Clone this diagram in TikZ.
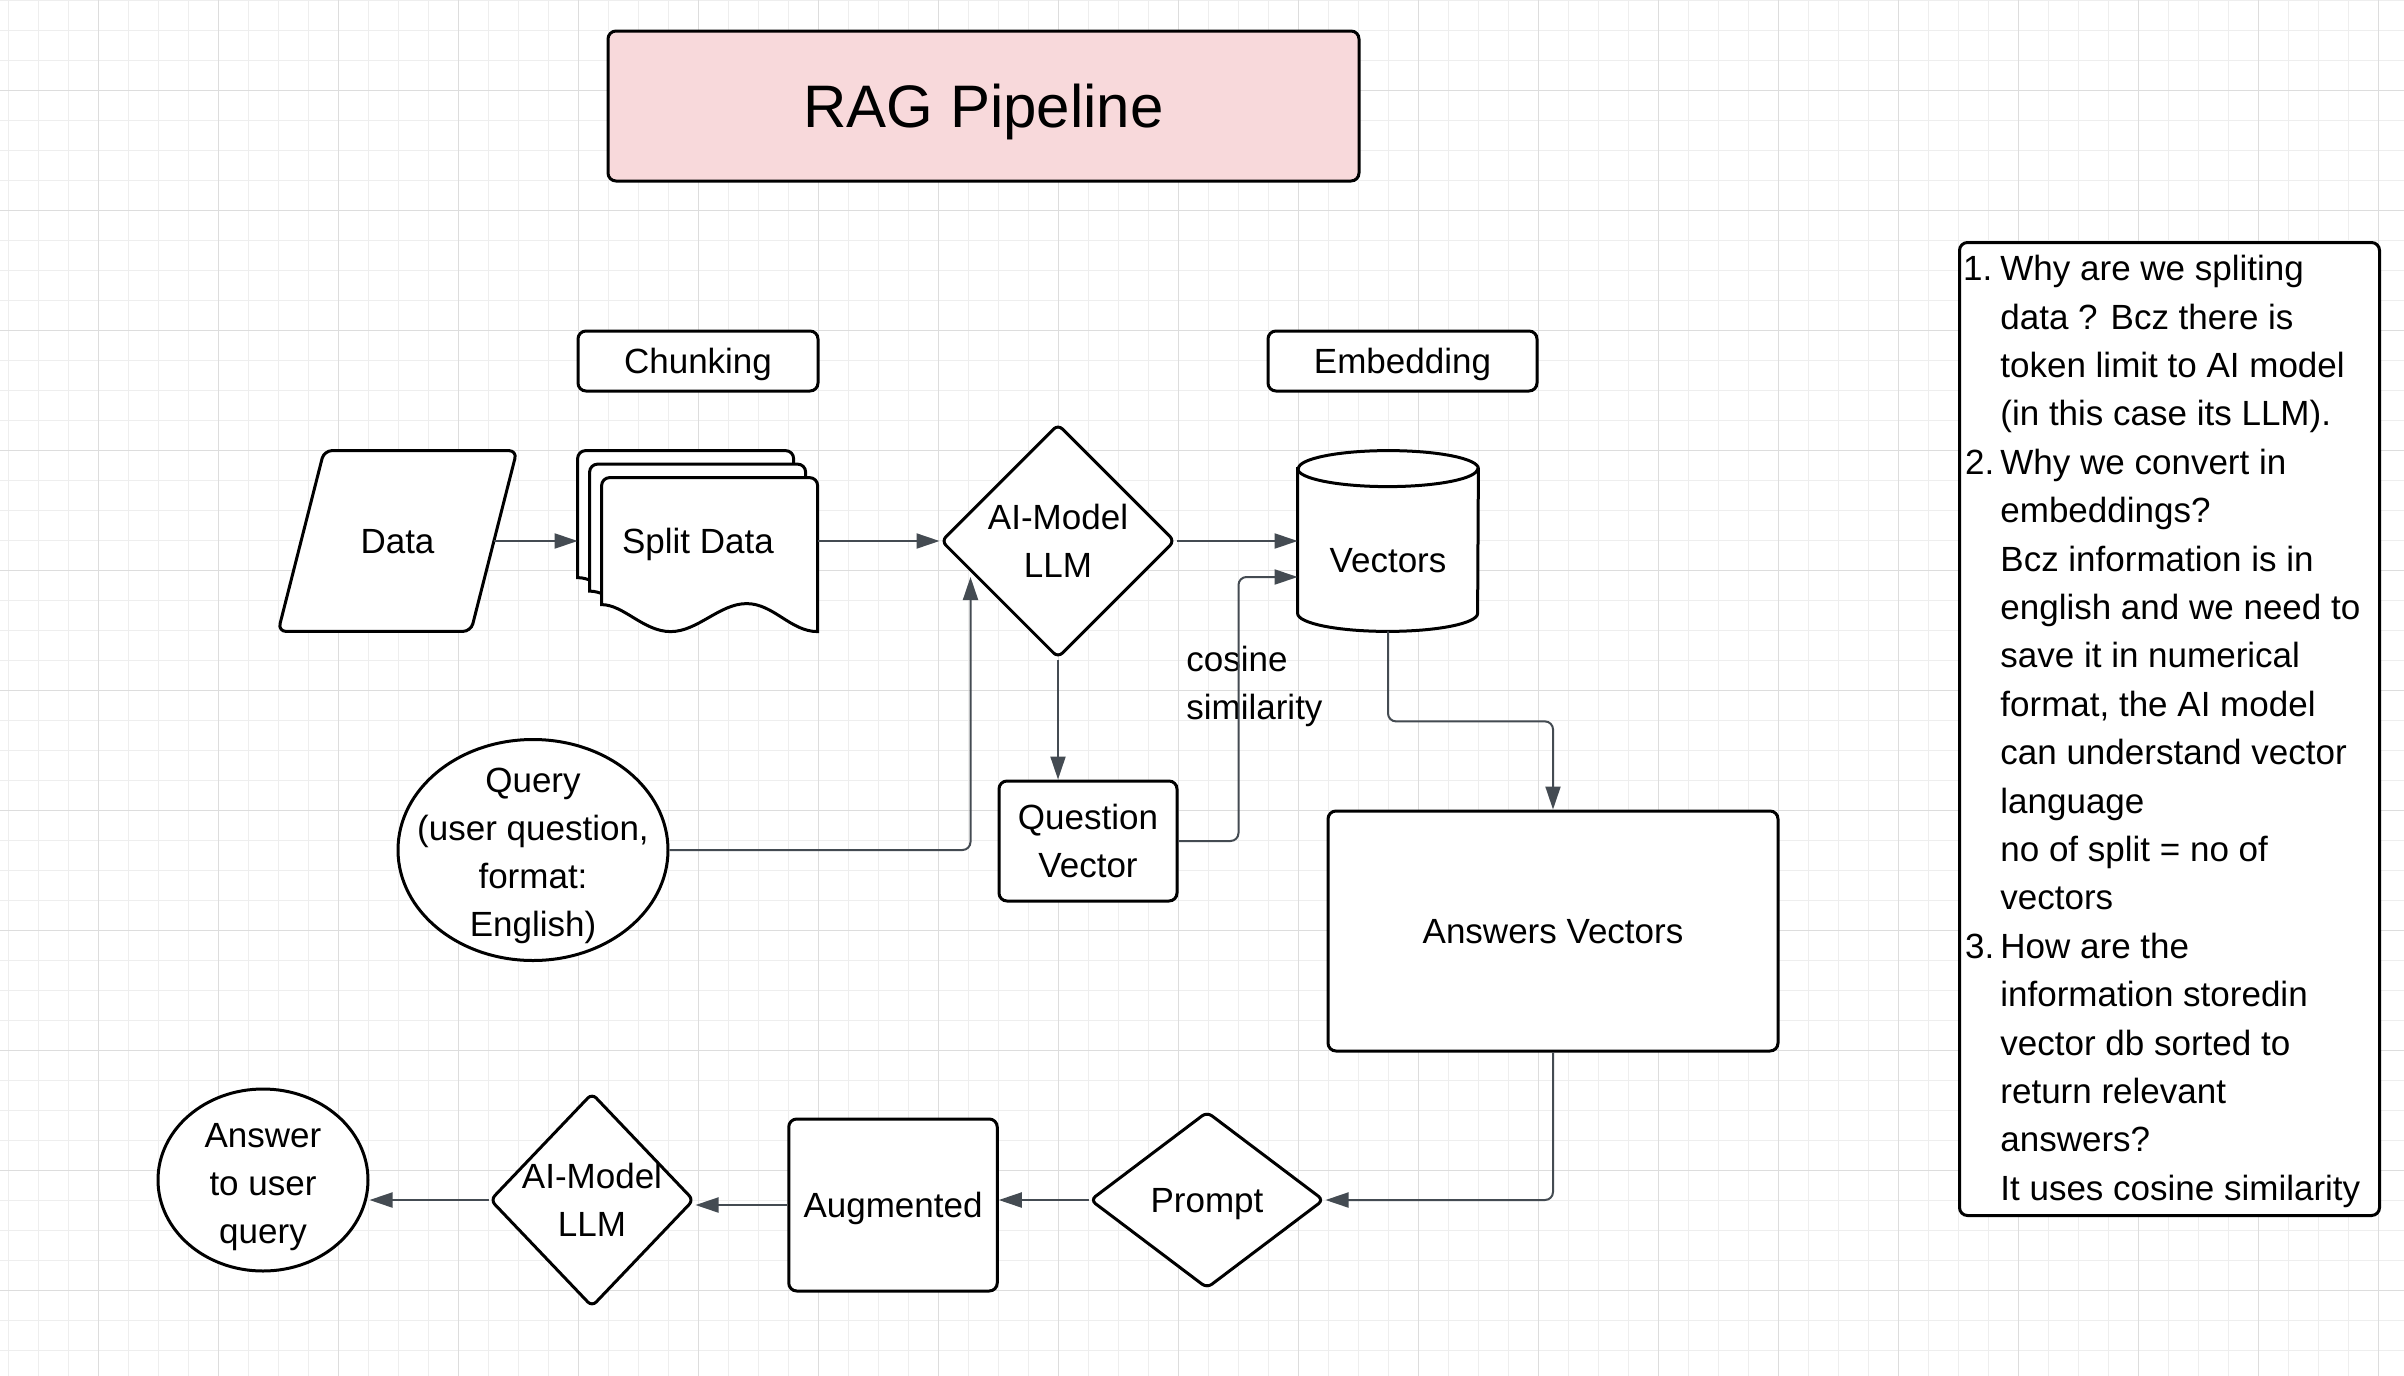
\documentclass[tikz,border=0pt]{standalone}
\usepackage{fontspec}
\setmainfont{Liberation Sans}
\usetikzlibrary{arrows.meta, shapes.geometric}
\pgfdeclarelayer{grid}
\pgfdeclarelayer{back}
\pgfsetlayers{grid,back,main}

\definecolor{gridminor}{HTML}{EEEEEE}
\definecolor{gridmajor}{HTML}{DDDDDD}
\definecolor{titlepink}{HTML}{F8D9DB}
\definecolor{linkgray}{HTML}{444B52}

\tikzset{every picture/.style={x=0.5pt, y=-0.5pt}}
\tikzset{
  shapeline/.style={draw=black, line width=1.5pt, fill=white},
  labelbox/.style={shapeline, rounded corners=4pt, inner sep=0pt, align=center, text depth=0pt},
  ghost/.style={inner sep=0pt, align=center, text depth=0pt},
  decision/.style={shapeline, diamond, inner sep=0pt, rounded corners=3pt, text depth=0pt},
  bubble/.style={shapeline, ellipse, inner sep=0pt},
  link/.style={draw=linkgray, line width=1pt, rounded corners=4pt, -{Triangle[length=11.5pt, width=7.5pt]}},
}

\begin{document}
\begin{tikzpicture}[font=\fontsize{17.5}{24}\selectfont]
        \useasboundingbox (0,0) rectangle (2404,1376);

        % Grid paper
        \begin{pgfonlayer}{grid}
        \fill[white] (0,0) rectangle (2404,1376);
        \foreach \i in {0,...,80} \draw[gridminor, line width=0.6pt] ({8.4+30*\i},0) -- ({8.4+30*\i},1376);
        \foreach \j in {0,...,46} \draw[gridminor, line width=0.6pt] (0,{0.5+30*\j}) -- (2404,{0.5+30*\j});
        \foreach \i in {0,...,19} \draw[gridmajor, line width=0.6pt] ({98.4+120*\i},0) -- ({98.4+120*\i},1376);
        \foreach \j in {0,...,10} \draw[gridmajor, line width=0.6pt] (0,{90.5+120*\j}) -- (2404,{90.5+120*\j});
        \end{pgfonlayer}

        % Title and stage labels
        \node[labelbox, fill=titlepink, minimum width=375.5pt, minimum height=75pt, font=\fontsize{30}{36}\selectfont] (title) at (983.5,106) {RAG Pipeline};
        \node[labelbox, minimum width=120pt, minimum height=30pt] (chunk) at (698,361) {Chunking};
        \node[labelbox, minimum width=134.5pt, minimum height=30pt] (embed) at (1402.5,361) {Embedding};

        % Upper row
        \node[ghost, minimum width=96pt, minimum height=90pt] (data) at (397.5,541) {Data};
        \node[ghost, minimum width=120pt, minimum height=90pt] (split) at (698,541) {Split Data};
        \node[decision, minimum width=117pt, minimum height=117pt] (ai) at (1058,541) {};
        \node[ghost] (aitext) at (ai) {AI-Model\\LLM};
        \node[ghost, minimum width=90pt, minimum height=90pt] (vec) at (1388,541) {};
        \node[ghost] (vectext) at (1388,560) {Vectors};

        % Middle row
        \node[bubble, minimum width=135pt, minimum height=110.5pt] (query) at (533,850) {};
        \node[ghost] (querytext) at (533,852) {Query\\(user question,\\format:\\English)};
        \node[labelbox, minimum width=89pt, minimum height=60pt] (qv) at (1088,841) {Question\\Vector};
        \node[ghost, anchor=west, align=left] (cosine) at (1186,683) {cosine\\similarity};
        \node[labelbox, minimum width=225pt, minimum height=120pt] (ans) at (1553,931) {Answers Vectors};

        % Lower row
        \node[decision, minimum width=117pt, minimum height=88.5pt] (prompt) at (1207,1200) {Prompt};
        \node[labelbox, minimum width=104.25pt, minimum height=86pt] (aug) at (893,1205) {Augmented};
        \node[decision, minimum width=102pt, minimum height=107pt] (llm) at (592,1200) {};
        \node[ghost] (llmtext) at (llm) {AI-Model\\LLM};
        \node[bubble, minimum width=105pt, minimum height=91pt] (answer) at (263,1180) {};
        \node[ghost] (answertext) at (263,1183) {Answer\\to user\\query};

        % Notes
        \node[shapeline, rounded corners=4pt, minimum width=210pt, minimum height=486.5pt, anchor=north west] (notes) at (1958,241) {};
        \node[ghost, anchor=north west, align=left, font=\fontsize{17.5}{24.2}\selectfont] (notetext) at (2000,255) {%
          \llap{1.\hspace{4pt}}Why are we spliting\\
          data ? Bcz there is\\
          token limit to AI model\\
          (in this case its LLM).\\
          \llap{2.\hspace{3pt}}Why we convert in\\
          embeddings?\\
          Bcz information is in\\
          english and we need to\\
          save it in numerical\\
          format, the AI model\\
          can understand vector\\
          language\\
          no of split = no of\\
          vectors\\
          \llap{3.\hspace{3pt}}How are the\\
          information storedin\\
          vector db sorted to\\
          return relevant\\
          answers?\\
          It uses cosine similarity};

        % Outlines of the drawn shapes
        \begin{pgfonlayer}{back}
        \draw[shapeline, rounded corners=4pt] ([xshift=-11.5pt]data.south west) -- ([xshift=11.5pt]data.north west) -- ([xshift=11.5pt]data.north east) -- ([xshift=-11.5pt]data.south east) -- cycle;
        \foreach \s in {0,1,2}
          \draw[shapeline, shift={(split.north west)}, shift={(12*\s,13.5*\s)}] (0,127) [rounded corners=4pt] -- (0,0) -- (216,0) [sharp corners] -- (216,154) .. controls (189,154) and (172,126) .. (145,126) .. controls (118,126) and (96,154) .. (69,154) .. controls (42,154) and (22,127) .. cycle;
        \draw[shapeline] ([yshift=-9pt]vec.north west) -- ([yshift=9pt]vec.south west) arc[start angle=180, end angle=360, x radius=45pt, y radius=9pt] -- ([yshift=-9pt]vec.north east) arc[start angle=0, end angle=180, x radius=45pt, y radius=9pt] -- cycle;
        \draw[shapeline, fill=none] ([yshift=-9pt]vec.north west) arc[start angle=180, end angle=360, x radius=45pt, y radius=9pt];
        \end{pgfonlayer}

        % Connectors
        \coordinate (queryin) at (970.5,577);
        \draw[link] (data.east) -- (split.west);
        \draw[link] (split.east) -- (ai.west);
        \draw[link] (ai.east) -- (vec.west);
        \draw[link] (ai.south) -- (ai.south |- qv.north);
        \draw[link] (query.east) -| (queryin);
        \draw[link] (qv.east) -- ++(60,0) |- ([yshift=-18pt]vec.west);
        \draw[link] (vec.south) -- ++(0,90) -| (ans.north);
        \draw[link] (ans.south) |- (prompt.east);
        \draw[link] (prompt.west) -- (prompt.west -| aug.east);
        \draw[link] (aug.west) -- (aug.west -| llm.east);
        \draw[link] (llm.west) -- (llm.west -| answer.east);
    \end{tikzpicture}
\end{document}
